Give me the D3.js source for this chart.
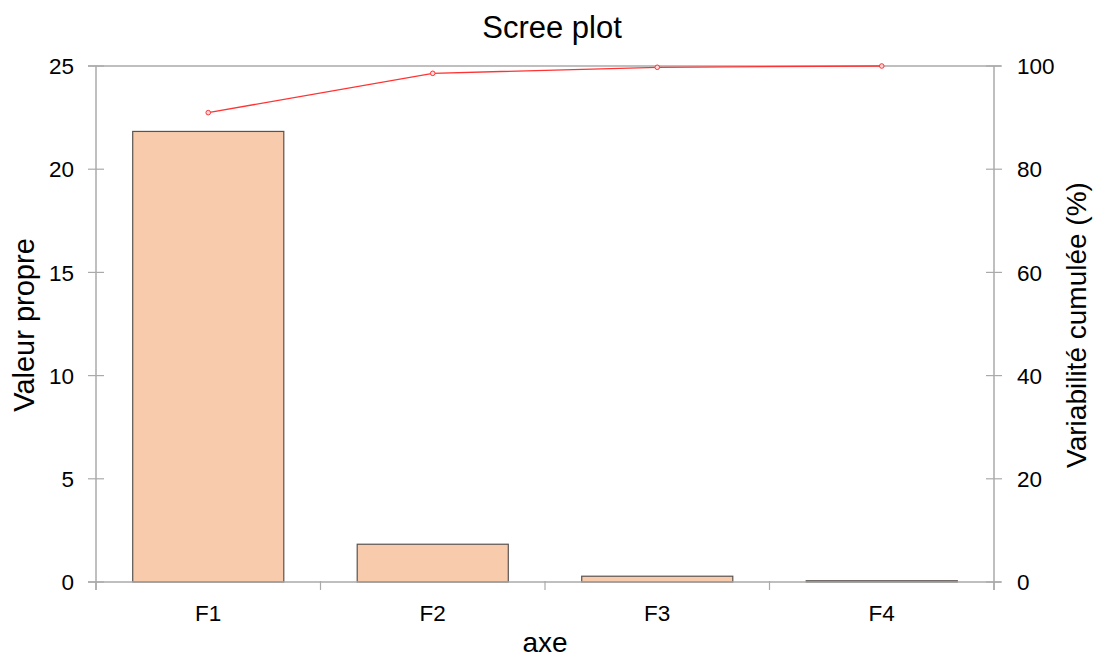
<!DOCTYPE html>
<html><head><meta charset="utf-8">
<script src="https://cdn.jsdelivr.net/npm/d3@7"></script>
<style>body{margin:0;background:#fff}svg{display:block;font-family:"Liberation Sans",Arial,sans-serif}</style>
</head><body><svg id="c" width="1099" height="657"></svg>
<script>
const categories = ["F1","F2","F3","F4"];
const eigenvalues = [21.83, 1.83, 0.28, 0.06];
const cumulative = [90.96, 98.58, 99.75, 100];
const leftTicks = [0,5,10,15,20,25];
const rightTicks = [0,20,40,60,80,100];

const svg = d3.select("#c");
const L=96, R=994, T=66, B=582;
const axisColor="#aaaaaa";
const tickFont=22.5;
const x = d3.scaleBand().domain(categories).range([L,R]).padding(0);
const y = d3.scaleLinear().domain([0,25]).range([B,T]);
const y2 = d3.scaleLinear().domain([0,100]).range([B,T]);

// top border
svg.append("line").attr("x1",L-8).attr("x2",R+7).attr("y1",T).attr("y2",T).attr("stroke",axisColor).attr("stroke-width",1.5);

// bars
const bw = x.bandwidth()*0.673;
svg.selectAll("rect.bar").data(categories).join("rect")
  .attr("x",d=>x(d)+(x.bandwidth()-bw)/2).attr("width",bw)
  .attr("y",(d,i)=>y(eigenvalues[i])).attr("height",(d,i)=>B-y(eigenvalues[i]))
  .attr("fill","#f7cbab").attr("stroke","#5a5350").attr("stroke-width",1.2);

// left axis
const gl = svg.append("g").attr("transform",`translate(${L},0)`);
gl.append("line").attr("y1",T).attr("y2",B+8).attr("stroke",axisColor).attr("stroke-width",1.5);
leftTicks.forEach(t=>{
  gl.append("line").attr("x1",-8).attr("x2",8).attr("y1",y(t)).attr("y2",y(t)).attr("stroke",axisColor).attr("stroke-width",1.2);
  gl.append("text").attr("x",-22).attr("y",y(t)).attr("dy","0.36em").attr("text-anchor","end").attr("font-size",tickFont).text(t);
});
// right axis
const gr = svg.append("g").attr("transform",`translate(${R},0)`);
gr.append("line").attr("y1",T).attr("y2",B+8).attr("stroke",axisColor).attr("stroke-width",1.5);
rightTicks.forEach(t=>{
  gr.append("line").attr("x1",-8).attr("x2",8).attr("y1",y2(t)).attr("y2",y2(t)).attr("stroke",axisColor).attr("stroke-width",1.2);
  gr.append("text").attr("x",23).attr("y",y2(t)).attr("dy","0.36em").attr("text-anchor","start").attr("font-size",tickFont).text(t);
});
// bottom axis
svg.append("line").attr("x1",L-8).attr("x2",R+7).attr("y1",B).attr("y2",B).attr("stroke",axisColor).attr("stroke-width",1.5);
const bounds = categories.map(c=>x(c)).concat([R]);
bounds.forEach(b=>svg.append("line").attr("x1",b).attr("x2",b).attr("y1",B-1).attr("y2",B+8).attr("stroke",axisColor).attr("stroke-width",1.2));
categories.forEach(c=>svg.append("text").attr("x",x(c)+x.bandwidth()/2).attr("y",621).attr("text-anchor","middle").attr("font-size",tickFont).text(c));

// cumulative line
const cx = (d,i)=>x(categories[i])+x.bandwidth()/2;
svg.append("path").datum(cumulative)
  .attr("d",d3.line().x(cx).y(d=>y2(d)))
  .attr("fill","none").attr("stroke","#ff3333").attr("stroke-width",1.3);
svg.selectAll("circle.pt").data(cumulative).join("circle")
  .attr("cx",cx).attr("cy",d=>y2(d)).attr("r",2.3)
  .attr("fill","#ffdada").attr("stroke","#ff3333").attr("stroke-width",1);

// titles
svg.append("text").attr("x",552).attr("y",38).attr("text-anchor","middle").attr("font-size",31).text("Scree plot");
svg.append("text").attr("x",545).attr("y",652).attr("text-anchor","middle").attr("font-size",28).text("axe");
svg.append("text").attr("transform","translate(34,325) rotate(-90)").attr("text-anchor","middle").attr("font-size",29).text("Valeur propre");
svg.append("text").attr("transform","translate(1086,325) rotate(-90)").attr("text-anchor","middle").attr("font-size",28).text("Variabilité cumulée (%)");
</script></body></html>
